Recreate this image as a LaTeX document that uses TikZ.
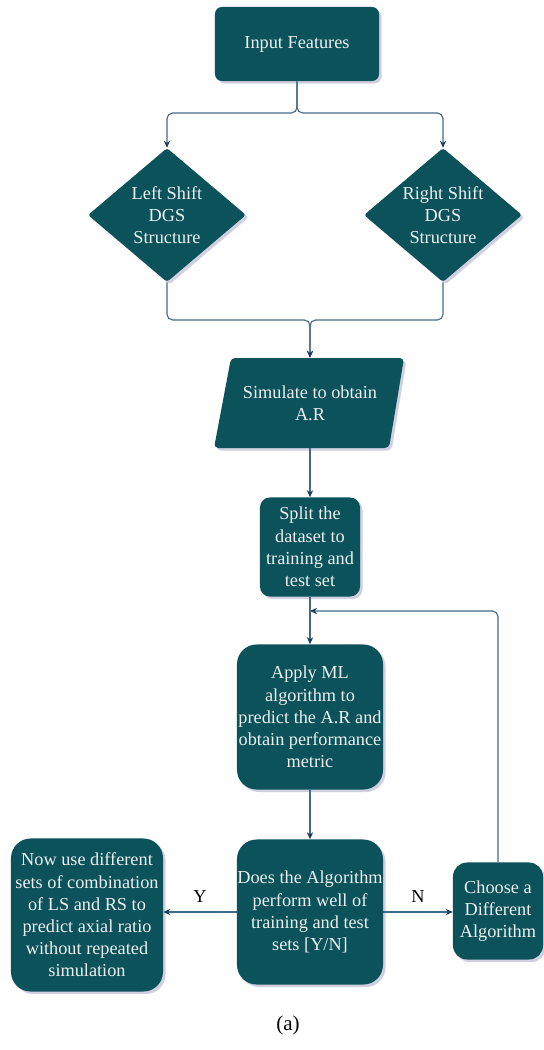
\documentclass[tikz,border=0pt]{standalone}
\usepackage{fontspec}
\setmainfont{Liberation Serif}
\usetikzlibrary{shapes.geometric,arrows.meta,shadows}
\definecolor{boxteal}{RGB}{11,82,91}
\definecolor{linkblue}{RGB}{66,106,136}
\definecolor{tipblue}{RGB}{28,62,92}
\definecolor{boxtext}{RGB}{236,240,240}
\definecolor{shade}{RGB}{176,176,204}
\tikzset{
	boxshadow/.style={drop shadow={shadow xshift=1.8pt, shadow yshift=-1.8pt, fill=shade, opacity=0.6}},
	boxtxt/.style={text=boxtext, align=center, inner sep=0pt, font=\fontsize{13}{15.8}\selectfont},
	box/.style={rectangle, rounded corners=#1, fill=boxteal, boxtxt, boxshadow},
	box/.default=5pt,
	decision/.style={diamond, aspect=1.18, rounded corners=2pt, fill=boxteal, boxtxt, boxshadow, minimum width=3.95cm, minimum height=3.35cm},
	conn/.style={draw=linkblue, line width=0.8pt, rounded corners=4pt},
	arr/.style={conn, -{Stealth[length=5pt, width=4.5pt, color=tipblue]}},
	lbl/.style={font=\fontsize{13}{15.8}\selectfont, text=black}
}
\begin{document}
\begin{tikzpicture}[x=0.025cm, y=-0.025cm]
	\useasboundingbox (0,0) rectangle (544,1050);
	% top of the chart
	\node[box=5pt, minimum width=4.1cm, minimum height=1.85cm] (inp) at (297,44) {Input Features};
	\node[decision] (ls) at (167,215) {Left Shift\\DGS\\Structure};
	\node[decision] (rs) at (443,215) {Right Shift\\DGS\\Structure};
	\coordinate (fork) at (297,113);
	\draw[arr] (inp.south) -- (fork) -| (ls.north);
	\draw[arr] (inp.south) -- (fork) -| (rs.north);
	% simulation step
	\path[fill=boxteal, rounded corners=3pt, boxshadow] (231,358) -- (404,358) -- (389,448) -- (214,448) -- cycle;
	\node[boxtxt, minimum width=4.3cm, minimum height=2.25cm] (sim) at (310,403) {Simulate to obtain\\A.R};
	\coordinate (merge) at (310,320);
	\draw[arr] (ls.south) |- (merge) -- (sim.north);
	\draw[arr] (rs.south) |- (merge) -- (sim.north);
	\node[box=7pt, minimum width=2.5cm, minimum height=2.475cm] (spl) at (310,547) {Split the\\dataset to\\training and\\test set};
	\draw[arr] (sim.south) -- (spl.north);
	% training loop
	\node[box=14pt, minimum width=3.65cm, minimum height=3.625cm] (app) at (310,717) {Apply ML\\algorithm to\\predict the A.R and\\obtain performance\\metric};
	\node[box=14pt, minimum width=3.65cm, minimum height=3.625cm] (doe) at (310,912) {Does the Algorithm\\perform well of\\training and test\\sets [Y/N]};
	\node[box=14pt, minimum width=3.8cm, minimum height=3.825cm] (now) at (87,915) {Now use different\\sets of combination\\of LS and RS to\\predict axial ratio\\without repeated\\simulation};
	\node[box=10pt, minimum width=2.25cm, minimum height=2.425cm] (cho) at (498,911) {Choose a\\Different\\Algorithm};
	\coordinate (loopin) at (310,611);
	\draw[arr] (spl.south) -- (app.north);
	\draw[arr] (app.south) -- (doe.north);
	\draw[arr] (doe.west) -- node[lbl, above=3pt]{Y} (doe.west -| now.east);
	\draw[arr] (doe.east) -- node[lbl, above=3pt]{N} (doe.east -| cho.west);
	\draw[arr] (cho.north) |- (loopin);
	\node[font=\fontsize{15}{18}\selectfont] (cap) at (288,1025) {(a)};
\end{tikzpicture}
\end{document}
